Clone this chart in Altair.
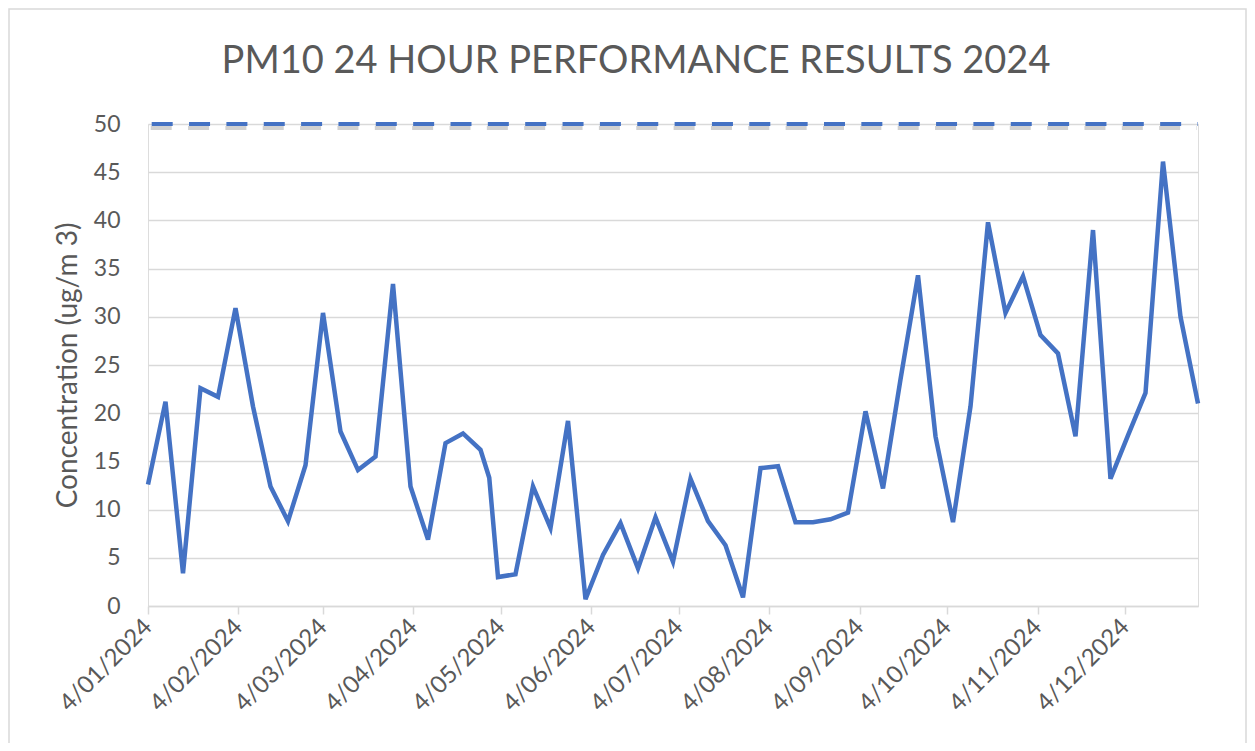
import altair as alt
import pandas as pd

# ---- data ----
DATES = [
    "2024-01-04", "2024-01-10", "2024-01-16", "2024-01-22", "2024-01-28",
    "2024-02-03", "2024-02-09", "2024-02-15", "2024-02-21", "2024-02-27",
    "2024-03-04", "2024-03-10", "2024-03-16", "2024-03-22", "2024-03-28",
    "2024-04-03", "2024-04-09", "2024-04-15", "2024-04-21", "2024-04-27",
    "2024-04-30", "2024-05-03", "2024-05-09", "2024-05-15", "2024-05-21",
    "2024-05-27", "2024-06-02", "2024-06-08", "2024-06-14", "2024-06-20",
    "2024-06-26", "2024-07-02", "2024-07-08", "2024-07-14", "2024-07-20",
    "2024-07-26", "2024-08-01", "2024-08-07", "2024-08-13", "2024-08-19",
    "2024-08-25", "2024-08-31", "2024-09-06", "2024-09-12", "2024-09-18",
    "2024-09-24", "2024-09-30", "2024-10-06", "2024-10-12", "2024-10-18",
    "2024-10-24", "2024-10-30", "2024-11-05", "2024-11-11", "2024-11-17",
    "2024-11-23", "2024-11-29", "2024-12-05", "2024-12-11", "2024-12-17",
    "2024-12-23", "2024-12-29",
]
PM10 = [
    12.6, 21.2, 3.4, 22.6, 21.7,
    30.9, 20.7, 12.4, 8.8, 14.6,
    30.4, 18.1, 14.1, 15.5, 33.4,
    12.4, 6.9, 16.9, 17.9, 16.2,
    13.3, 3.0, 3.3, 12.4, 8.1,
    19.2, 0.7, 5.3, 8.6, 3.9,
    9.2, 4.6, 13.2, 8.8, 6.3,
    0.9, 14.3, 14.5, 8.7, 8.7,
    9.0, 9.7, 20.2, 12.2, 23.5,
    34.3, 17.6, 8.7, 20.7, 39.8,
    30.4, 34.2, 28.1, 26.2, 17.6,
    39.0, 13.2, 17.7, 22.1, 46.1,
    30.0, 21.0,
]
LIMIT = 50
Y_TICKS = [0, 5, 10, 15, 20, 25, 30, 35, 40, 45, 50]
TICK_MONTHS = [1, 2, 3, 4, 5, 6, 7, 8, 9, 10, 11, 12]
TICK_DAY = 4

BLUE = "#4472C4"
GREY_TXT = "#595959"
GRID = "#d9d9d9"
FONT = "Lato"
DASH = [21, 16.35]

df = pd.DataFrame({"date": DATES, "pm10": PM10})
limit_df = pd.DataFrame({"limit": [LIMIT]})

x_scale = alt.Scale(
    type="utc",
    domain=[alt.DateTime(year=2024, month=1, date=4, utc=True),
            alt.DateTime(year=2024, month=12, date=29, utc=True)],
)
y_scale = alt.Scale(domain=[0, 50], nice=False)

x_axis = alt.Axis(
    values=[alt.DateTime(year=2024, month=m, date=TICK_DAY, utc=True) for m in TICK_MONTHS],
    format="%-d/%m/%Y",
    labelAngle=-45,
    labelAlign="right",
    labelBaseline="middle",
    labelFontSize=24,
    labelColor=GREY_TXT,
    labelFont=FONT,
    labelPadding=9,
    labelOverlap=False,
    labelFlush=False,
    tickSize=8,
    tickColor=GRID,
    tickWidth=1.5,
    domainColor=GRID,
    domainWidth=1.5,
    grid=False,
    title=None,
)
y_axis = alt.Axis(
    values=Y_TICKS,
    grid=True,
    gridColor=GRID,
    gridWidth=1.5,
    domain=False,
    ticks=False,
    labelPadding=28,
    labelFontSize=23,
    labelColor=GREY_TXT,
    labelFont=FONT,
    title="Concentration (ug/m 3)",
    titleFontSize=28,
    titleFont=FONT,
    titleColor=GREY_TXT,
    titleFontWeight="normal",
    titleX=-80,
    titleY=241,
    titleAngle=270,
    titleBaseline="middle",
    titleAlign="center",
)

line = alt.Chart(df).mark_line(color=BLUE, strokeWidth=4.5, strokeJoin="miter").encode(
    x=alt.X("date:T", scale=x_scale, axis=x_axis),
    y=alt.Y("pm10:Q", scale=y_scale, axis=y_axis),
)

shadow = alt.Chart(limit_df).mark_rule(
    color="#9a9a9a", strokeWidth=4, strokeDash=DASH, strokeDashOffset=20.5,
    opacity=0.45, yOffset=4, xOffset=-1, strokeCap="butt",
).encode(y=alt.Y("limit:Q", scale=y_scale))

limit = alt.Chart(limit_df).mark_rule(
    color=BLUE, strokeWidth=4, strokeDash=DASH, strokeDashOffset=20.5,
    strokeCap="butt",
).encode(y=alt.Y("limit:Q", scale=y_scale))

frame = alt.Chart(pd.DataFrame({"f": [0]})).mark_rect(
    fill=None, stroke=GRID, strokeWidth=1.5
).encode(
    x=alt.value(-139), x2=alt.value(1098), y=alt.value(-115), y2=alt.value(640)
)

chart = alt.layer(frame, shadow, limit, line).properties(
    width=1050,
    height=482,
    padding={"left": 140, "top": 116, "right": 49, "bottom": 137},
    autosize=alt.AutoSizeParams(type="none"),
    title=alt.TitleParams(
        text="PM10 24 HOUR PERFORMANCE RESULTS 2024",
        fontSize=38,
        font=FONT,
        fontWeight="normal",
        color=GREY_TXT,
        anchor="middle",
        frame="group",
        baseline="alphabetic",
        offset=-103,
        dx=-37,
    ),
).configure_view(stroke=None).configure(background="white")

chart.save("out.html", embed_options={"renderer": "svg", "actions": False})
